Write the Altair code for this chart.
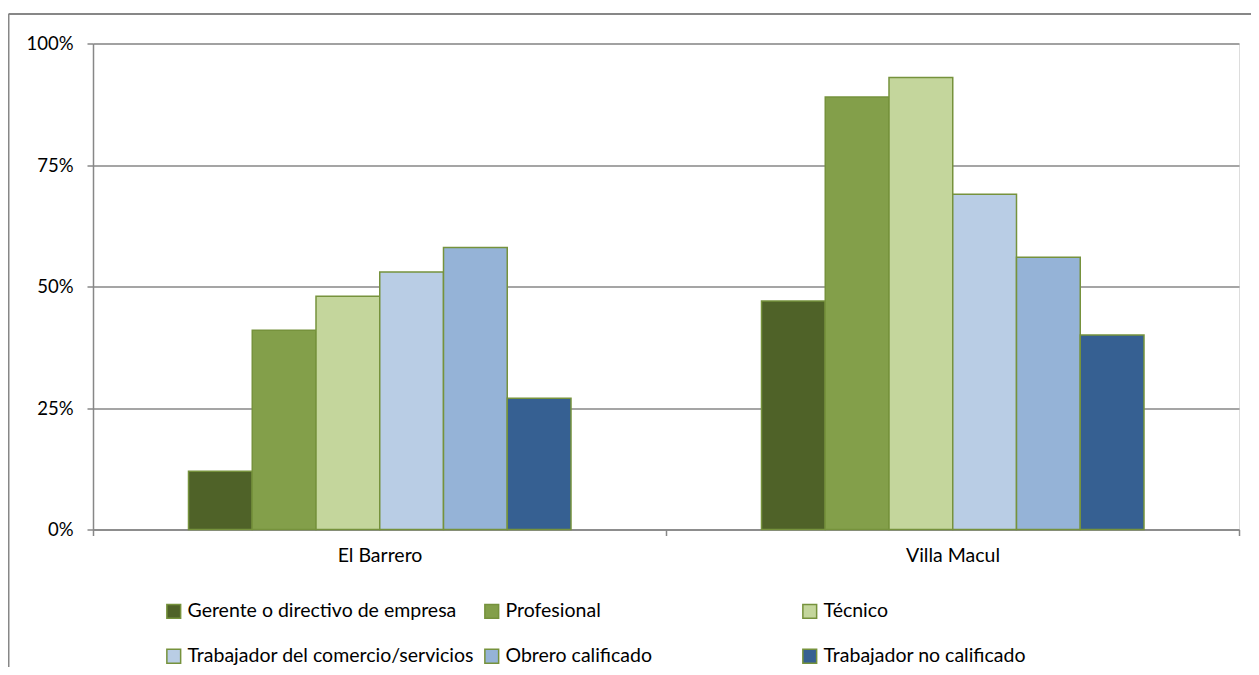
import altair as alt
import pandas as pd

zonas = ["El Barrero", "Villa Macul"]
ocupaciones = [
    "Gerente o directivo de empresa",
    "Profesional",
    "Técnico",
    "Trabajador del comercio/servicios",
    "Obrero calificado",
    "Trabajador no calificado",
]
el_barrero = [0.12, 0.41, 0.48, 0.53, 0.58, 0.27]
villa_macul = [0.47, 0.89, 0.93, 0.69, 0.56, 0.40]
colores = ["#4F6228", "#839F4A", "#C4D69C", "#B9CDE5", "#95B3D7", "#366092"]
y_ticks = [0, 0.25, 0.5, 0.75, 1.0]

rows = []
for z, vals in zip(zonas, [el_barrero, villa_macul]):
    for o, v in zip(ocupaciones, vals):
        rows.append({"Zona": z, "Ocupacion": o, "Valor": v})
df = pd.DataFrame(rows)

FONT = "Lato"
GRAY = "#878787"

bars = alt.Chart(df).mark_bar(stroke="#76923C", strokeWidth=1.5).encode(
    x=alt.X("Zona:N", sort=zonas, title=None,
            scale=alt.Scale(paddingInner=0, paddingOuter=0),
            axis=alt.Axis(labelAngle=0, tickBand="extent", ticks=True, tickSize=6,
                          tickColor=GRAY, tickWidth=1.5, domainColor=GRAY, domainWidth=1.5,
                          labelPadding=11, labelFontSize=19.5, labelFont=FONT,
                          labelColor="#000000", grid=False)),
    xOffset=alt.XOffset("Ocupacion:N", sort=ocupaciones,
                        scale=alt.Scale(paddingInner=0, paddingOuter=0, range=[95.5, 478])),
    y=alt.Y("Valor:Q", title=None,
            scale=alt.Scale(domain=[0, 1], nice=False),
            axis=alt.Axis(values=y_ticks, format=".0%", tickSize=6, tickColor=GRAY,
                          tickWidth=1.5, domainColor=GRAY, domainWidth=1.5,
                          gridColor=GRAY, gridWidth=1.4, labelPadding=14,
                          labelFontSize=18.5, labelFont=FONT, labelColor="#000000")),
    color=alt.Color("Ocupacion:N", sort=ocupaciones,
                    scale=alt.Scale(domain=ocupaciones, range=colores),
                    legend=alt.Legend(title=None, orient="none", legendX=71, legendY=558,
                                      columns=3, direction="horizontal", gridAlign="all",
                                      columnPadding=7, rowPadding=24, padding=0,
                                      symbolType="square", symbolSize=190,
                                      symbolStrokeColor="#76923C", symbolStrokeWidth=1.5,
                                      labelOffset=4, labelFontSize=19.5, labelFont=FONT,
                                      labelColor="#000000", labelLimit=400)),
)

frame_data = alt.Data(values=[{"a": 1}])
frame_left = alt.Chart(frame_data).mark_rule(color=GRAY, strokeWidth=2, clip=False).encode(
    x=alt.value(-84.5), y=alt.value(-29.5), y2=alt.value(700))
frame_top = alt.Chart(frame_data).mark_rule(color=GRAY, strokeWidth=2, clip=False).encode(
    x=alt.value(-84.5), x2=alt.value(1300), y=alt.value(-29.5))

chart = alt.layer(bars, frame_left, frame_top).properties(
    width=1146, height=486,
    autosize=alt.AutoSizeParams(type="none"),
    padding={"left": 85, "top": 35.5, "right": 12, "bottom": 137.5},
).configure_view(fill="#EFF2E9", stroke=None).configure(background="#FFFFFF")

chart.save("out.html", embed_options={"renderer": "svg", "actions": False})
